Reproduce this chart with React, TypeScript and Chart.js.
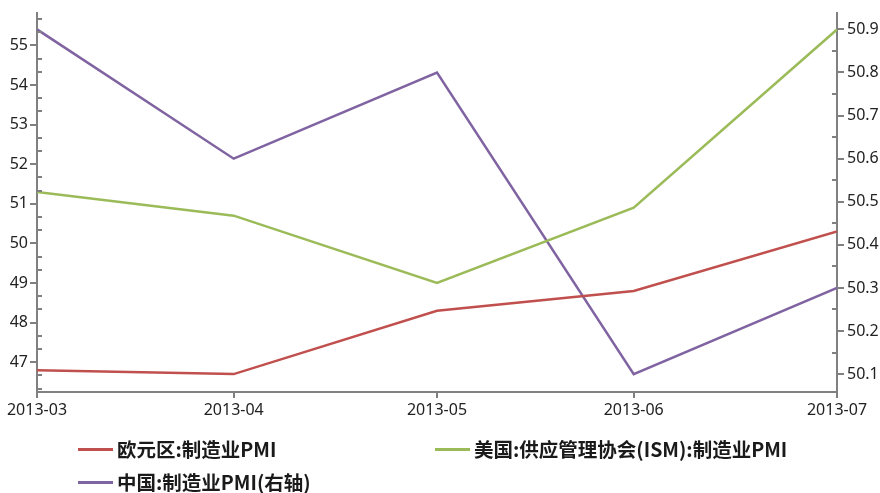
import React, { useEffect, useRef } from "react";
import { Chart, registerables } from "chart.js";

Chart.register(...registerables);

const dates = ["2013-03-31", "2013-04-30", "2013-05-31", "2013-06-30", "2013-07-31"];
const tickLabels = ["2013-03", "2013-04", "2013-05", "2013-06", "2013-07"];
const euroPMI = [46.8, 46.7, 48.3, 48.8, 50.3];
const usISM = [51.3, 50.7, 49.0, 50.9, 55.4];
const chinaPMI = [50.9, 50.6, 50.8, 50.1, 50.3];
const leftTicks = [47, 48, 49, 50, 51, 52, 53, 54, 55];
const rightTicks = [50.1, 50.2, 50.3, 50.4, 50.5, 50.6, 50.7, 50.8, 50.9];

const seriesNames = ["欧元区:制造业PMI", "美国:供应管理协会(ISM):制造业PMI", "中国:制造业PMI(右轴)"];
const seriesColors = ["#c0504d", "#9bbb59", "#8064a2"];

const toTime = (d: string) => Date.parse(d + "T00:00:00Z");
const AXIS = "#808080";
const TEXT = "#222";
const tickFont = { family: "'Noto Sans', sans-serif", size: 16 };

const minorTicks = {
  id: "minorTicks",
  afterDraw(chart: any) {
    const ctx = chart.ctx;
    const y = chart.scales.y;
    const y2 = chart.scales.y2;
    ctx.save();
    ctx.strokeStyle = AXIS;
    ctx.lineWidth = 2;
    for (let i = 0; i < 40; i++) {
      const v = 46 + i / 3;
      if (Math.abs(v - Math.round(v)) < 1e-6) continue;
      if (v < y.min || v > y.max) continue;
      const py = Math.round(y.getPixelForValue(v));
      ctx.beginPath();
      ctx.moveTo(y.right, py);
      ctx.lineTo(y.right + 5, py);
      ctx.stroke();
    }
    for (let i = 0; i < 20; i++) {
      const v = 50.05 + i * 0.1;
      if (v < y2.min || v > y2.max) continue;
      const py = Math.round(y2.getPixelForValue(v));
      ctx.beginPath();
      ctx.moveTo(y2.left, py);
      ctx.lineTo(y2.left - 5, py);
      ctx.stroke();
    }
    ctx.restore();
  },
};

export default function App() {
  const ref = useRef<HTMLCanvasElement>(null);

  useEffect(() => {
    document.body.style.margin = "0";
    const times = dates.map(toTime);
    const mk = (vals: number[]) => vals.map((v, i) => ({ x: times[i], y: v }));
    const chart = new Chart(ref.current!, {
      type: "line",
      data: {
        datasets: [
          { label: seriesNames[0], data: mk(euroPMI), borderColor: seriesColors[0], backgroundColor: seriesColors[0], borderWidth: 2.5, pointRadius: 0, yAxisID: "y", tension: 0 },
          { label: seriesNames[1], data: mk(usISM), borderColor: seriesColors[1], backgroundColor: seriesColors[1], borderWidth: 2.5, pointRadius: 0, yAxisID: "y", tension: 0 },
          { label: seriesNames[2], data: mk(chinaPMI), borderColor: seriesColors[2], backgroundColor: seriesColors[2], borderWidth: 2.5, pointRadius: 0, yAxisID: "y2", tension: 0 },
        ],
      },
      plugins: [minorTicks],
      options: {
        responsive: false,
        animation: false,
        layout: { padding: { top: 10, left: 0, right: 0, bottom: 0 } },
        plugins: { legend: { display: false }, tooltip: { enabled: false } },
        scales: {
          x: {
            type: "linear",
            min: times[0],
            max: times[times.length - 1],
            afterBuildTicks: (s: any) => {
              s.ticks = times.map((t) => ({ value: t }));
            },
            afterFit: (s: any) => {
              s.height = 101;
            },
            ticks: {
              autoSkip: false,
              maxRotation: 0,
              padding: 3,
              color: TEXT,
              font: tickFont,
              callback: (v: any) => {
                const i = times.indexOf(Number(v));
                return i >= 0 ? tickLabels[i] : "";
              },
            },
            grid: { display: true, drawOnChartArea: false, drawTicks: true, tickLength: 6, color: AXIS, lineWidth: 2 },
            border: { display: true, color: AXIS, width: 2 },
          },
          y: {
            type: "linear",
            position: "left",
            min: 46.248,
            max: 55.828,
            afterBuildTicks: (s: any) => {
              s.ticks = leftTicks.map((v) => ({ value: v }));
            },
            afterFit: (s: any) => {
              s.width = 37;
            },
            ticks: { color: TEXT, font: tickFont, padding: 2, callback: (v: any) => String(v) },
            grid: { display: true, drawOnChartArea: false, drawTicks: true, tickLength: 7, color: AXIS, lineWidth: 2 },
            border: { display: true, color: AXIS, width: 2 },
          },
          y2: {
            type: "linear",
            position: "right",
            min: 50.0585,
            max: 50.939,
            afterBuildTicks: (s: any) => {
              s.ticks = rightTicks.map((v) => ({ value: v }));
            },
            afterFit: (s: any) => {
              s.width = 43;
            },
            ticks: { color: TEXT, font: tickFont, padding: 3, callback: (v: any) => Number(v).toFixed(1) },
            grid: { display: true, drawOnChartArea: false, drawTicks: true, tickLength: 7, color: AXIS, lineWidth: 2 },
            border: { display: true, color: AXIS, width: 2 },
          },
        },
      },
    });
    return () => chart.destroy();
  }, []);

  const legendPos = [
    { left: 78, top: 449 },
    { left: 435, top: 449 },
    { left: 78, top: 482 },
  ];

  return (
    <div style={{ position: "relative", width: 880, height: 493, background: "#fff" }}>
      <canvas ref={ref} width={880} height={493} style={{ position: "absolute", left: 0, top: 0 }} />
      {seriesNames.map((name, i) => (
        <div
          key={name}
          style={{
            position: "absolute",
            left: legendPos[i].left,
            top: legendPos[i].top - 15,
            height: 30,
            display: "flex",
            alignItems: "center",
            whiteSpace: "nowrap",
          }}
        >
          <span style={{ display: "inline-block", width: 35, height: 3, background: seriesColors[i], marginRight: 4 }} />
          <span
            style={{
              fontFamily: "'Noto Sans CJK SC', sans-serif",
              fontWeight: 700,
              fontSize: 19.5,
              color: "#1a1a1a",
              lineHeight: "30px",
            }}
          >
            {name}
          </span>
        </div>
      ))}
    </div>
  );
}
